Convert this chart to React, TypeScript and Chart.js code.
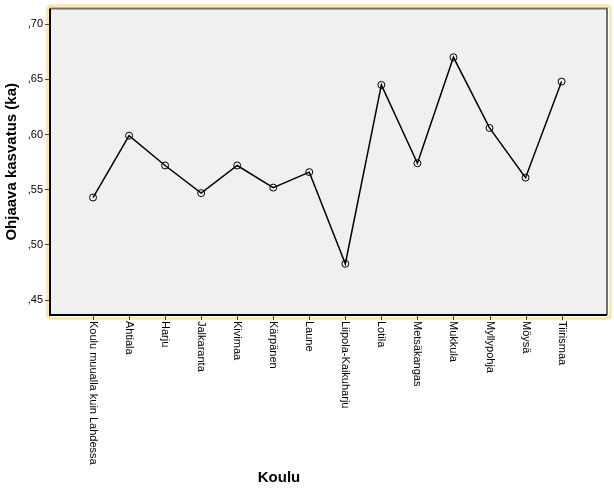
import React, { useEffect, useRef } from "react";
import { Chart, registerables } from "chart.js";

Chart.register(...registerables);

const categories = [
  "Koulu muualla kuin Lahdessa",
  "Ahtiala",
  "Harju",
  "Jalkaranta",
  "Kivimaa",
  "Kärpänen",
  "Laune",
  "Liipola-Kaikuharju",
  "Lotila",
  "Metsäkangas",
  "Mukkula",
  "Myllypohja",
  "Möysä",
  "Tiirismaa",
];
const values = [0.543, 0.599, 0.572, 0.547, 0.572, 0.552, 0.566, 0.483, 0.645, 0.574, 0.670, 0.606, 0.561, 0.648];
const yTicks = [0.45, 0.5, 0.55, 0.6, 0.65, 0.7];
const yTitle = "Ohjaava kasvatus (ka)";
const xTitle = "Koulu";

const FONT = "'Liberation Sans', Arial, sans-serif";

export default function App() {
  const ref = useRef<HTMLCanvasElement>(null);
  useEffect(() => {
    document.body.style.margin = "0";
    const canvas = ref.current!;
    const framePlugin = {
      id: "frame",
      beforeDraw(chart: any) {
        const { ctx, chartArea: a } = chart;
        ctx.save();
        ctx.fillStyle = "#ffffff";
        ctx.fillRect(0, 0, chart.width, chart.height);
        // yellow frame
        ctx.strokeStyle = "#fbe6a0";
        ctx.lineWidth = 2.5;
        const x0 = a.left - 2.5, y0 = a.top - 3, x1 = a.right + 3.5, y1 = a.bottom + 3.5, r = 4;
        ctx.beginPath();
        ctx.moveTo(x0 + r, y0);
        ctx.lineTo(x1 - r, y0);
        ctx.quadraticCurveTo(x1, y0, x1, y0 + r);
        ctx.lineTo(x1, y1 - r);
        ctx.quadraticCurveTo(x1, y1, x1 - r, y1);
        ctx.lineTo(x0 + r, y1);
        ctx.quadraticCurveTo(x0, y1, x0, y1 - r);
        ctx.lineTo(x0, y0 + r);
        ctx.quadraticCurveTo(x0, y0, x0 + r, y0);
        ctx.stroke();
        ctx.fillStyle = "#f0f0f0";
        ctx.fillRect(a.left, a.top, a.right - a.left, a.bottom - a.top);
        ctx.restore();
      },
      afterDatasetsDraw(chart: any) {
        const { ctx, chartArea: a } = chart;
        const xs = chart.scales.x;
        ctx.save();
        // plot border
        ctx.lineWidth = 2;
        ctx.strokeStyle = "#6e6e6e";
        ctx.beginPath();
        ctx.moveTo(a.left, a.top);
        ctx.lineTo(a.right, a.top);
        ctx.lineTo(a.right, a.bottom);
        ctx.stroke();
        ctx.strokeStyle = "#000000";
        ctx.beginPath();
        ctx.moveTo(a.left, a.top);
        ctx.lineTo(a.left, a.bottom);
        ctx.lineTo(a.right, a.bottom);
        ctx.stroke();
        // x tick marks and labels
        ctx.lineWidth = 1;
        ctx.strokeStyle = "#444";
        ctx.fillStyle = "#000";
        ctx.font = `11px ${FONT}`;
        ctx.textAlign = "left";
        ctx.textBaseline = "middle";
        categories.forEach((c, i) => {
          const x = Math.round(xs.getPixelForValue(i)) + 0.5;
          ctx.beginPath();
          ctx.moveTo(x, a.bottom + 1);
          ctx.lineTo(x, a.bottom + 5);
          ctx.stroke();
          ctx.save();
          ctx.translate(x, a.bottom + 6);
          ctx.rotate(Math.PI / 2);
          ctx.fillText(c, 0, 0);
          ctx.restore();
        });
        // titles
        ctx.font = `bold 15px ${FONT}`;
        ctx.textAlign = "center";
        ctx.textBaseline = "middle";
        ctx.fillText(xTitle, 279, 478);
        ctx.save();
        ctx.translate(12, (a.top + a.bottom) / 2);
        ctx.rotate(-Math.PI / 2);
        ctx.fillText(yTitle, 0, 0);
        ctx.restore();
        ctx.restore();
      },
    };
    const chart = new Chart(canvas, {
      type: "line",
      data: {
        datasets: [
          {
            data: values.map((v, i) => ({ x: i, y: v })),
            borderColor: "#000000",
            borderWidth: 1.5,
            pointRadius: 3.5,
            pointBorderWidth: 1,
            pointBorderColor: "#000000",
            pointBackgroundColor: "rgba(0,0,0,0)",
            tension: 0,
          },
        ],
      },
      options: {
        responsive: false,
        animation: false,
        events: [],
        layout: { padding: { left: 0, right: 7, top: 5, bottom: 175 } },
        plugins: { legend: { display: false }, tooltip: { enabled: false } },
        scales: {
          x: {
            type: "linear",
            min: -1.194,
            max: 14.26,
            display: false,
            grid: { display: false },
          },
          y: {
            type: "linear",
            min: 0.4366,
            max: 0.7141,
            afterBuildTicks: (s: any) => {
              s.ticks = yTicks.map((v) => ({ value: v }));
            },
            afterFit: (s: any) => {
              s.width = 50;
            },
            border: { display: false },
            grid: {
              display: true,
              drawOnChartArea: false,
              drawTicks: true,
              tickLength: 5,
              color: "#444",
            },
            ticks: {
              padding: 2,
              color: "#000",
              font: { family: FONT, size: 11 },
              callback: (v: any) => "," + Number(v).toFixed(2).split(".")[1],
            },
          },
        },
      },
      plugins: [framePlugin],
    });
    return () => chart.destroy();
  }, []);
  return <canvas ref={ref} width={614} height={490} style={{ display: "block" }} />;
}
